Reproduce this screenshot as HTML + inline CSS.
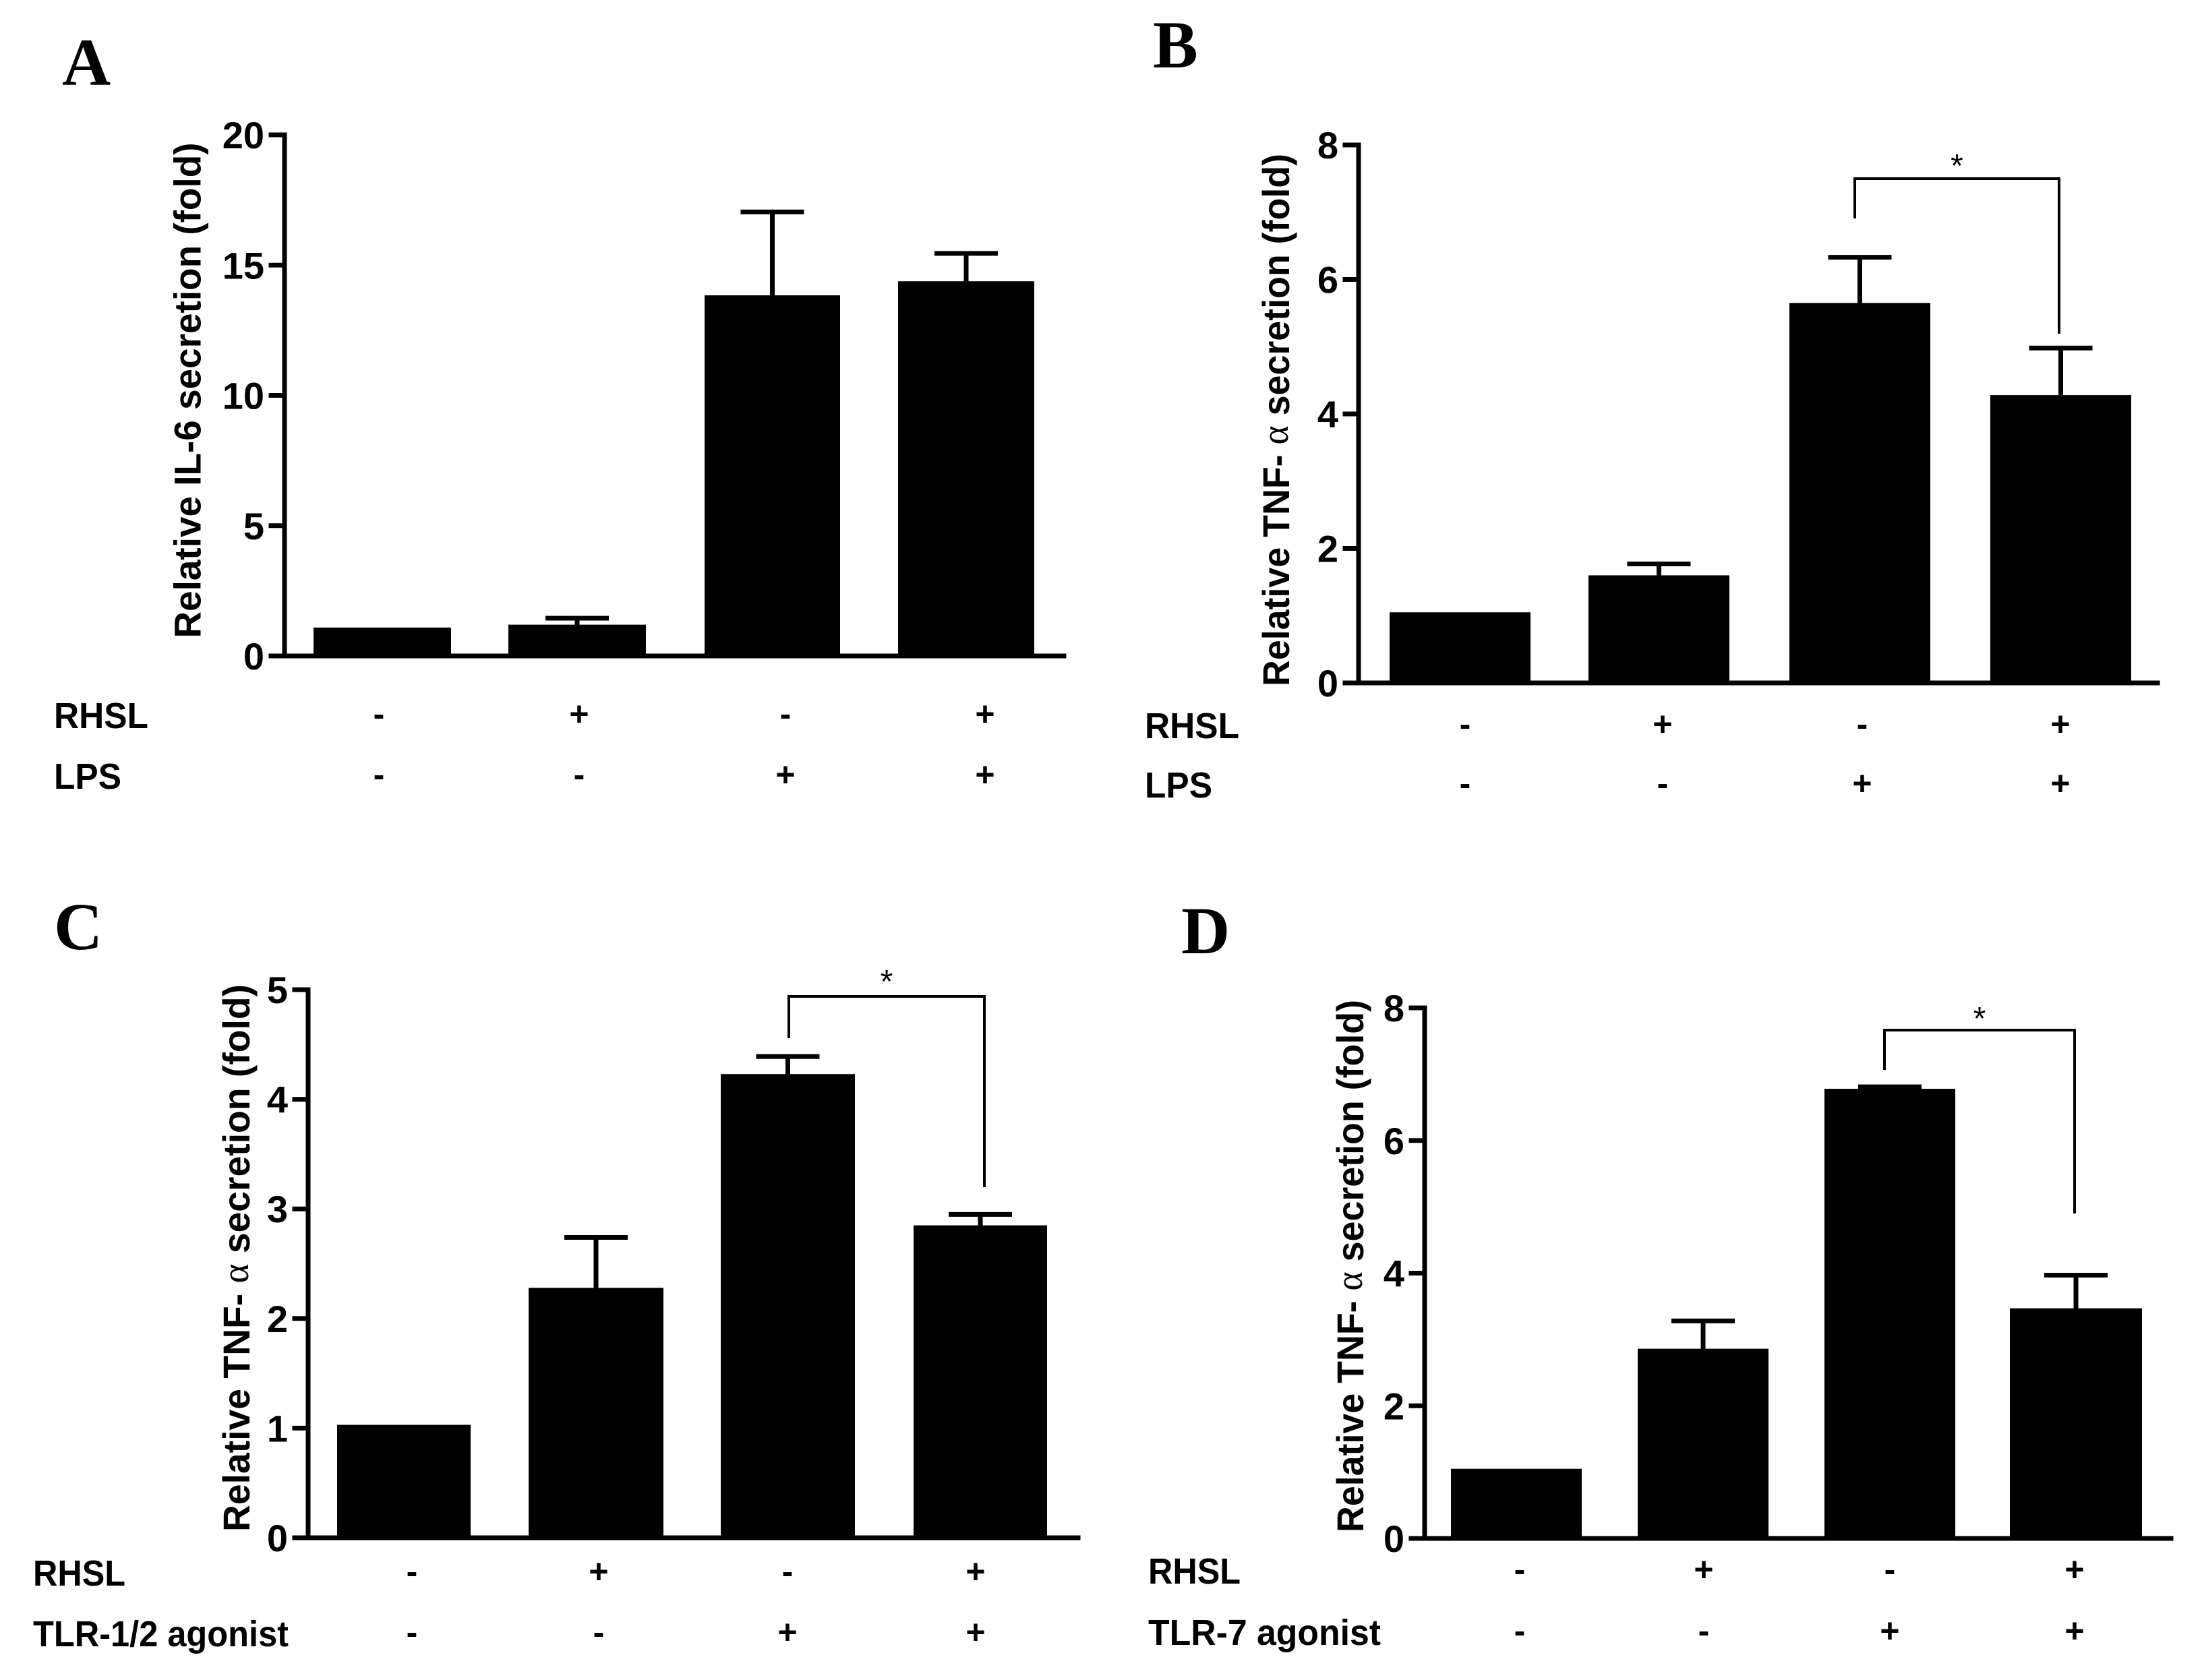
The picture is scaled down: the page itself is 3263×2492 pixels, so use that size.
<!DOCTYPE html>
<html><head><meta charset="utf-8"><style>
html,body{margin:0;padding:0;background:#fff;}
svg{display:block;}
text{font-family:"Liberation Sans",sans-serif;font-weight:bold;fill:#000;}
</style></head><body>
<svg id="fig" width="3263" height="2492" viewBox="0 0 3263 2492" xmlns="http://www.w3.org/2000/svg"></svg>
<script>
// Panel A data
const aValues = [1.09, 1.2, 13.84, 14.38];
const aErrors = [0, 0.25, 3.2, 1.07];
const aTicks = [0, 5, 10, 15, 20];
// Panel B data
const bValues = [1.05, 1.6, 5.65, 4.28];
const bErrors = [0, 0.17, 0.68, 0.7];
const bTicks = [0, 2, 4, 6, 8];
// Panel C data
const cValues = [1.03, 2.28, 4.23, 2.85];
const cErrors = [0, 0.46, 0.16, 0.1];
const cTicks = [0, 1, 2, 3, 4, 5];
// Panel D data
const dValues = [1.05, 2.86, 6.78, 3.47];
const dErrors = [0, 0.42, 0.03, 0.5];
const dTicks = [0, 2, 4, 6, 8];
// Treatment rows
const rhslSigns = ["-", "+", "-", "+"];
const stimSigns = ["-", "-", "+", "+"];

const NS = "http://www.w3.org/2000/svg";
const svg = document.getElementById('fig');
function mk(tag, attrs, parent, txt) {
  const e = document.createElementNS(NS, tag);
  for (const k in attrs) e.setAttribute(k, attrs[k]);
  if (txt !== undefined) e.textContent = txt;
  (parent || svg).appendChild(e);
  return e;
}

const panels = [
  {id:'a', letter:'A', lx:92, ly:126, axX:422, y0:973, yTop:200, xEnd:1578, max:20,
   bars:[[465,669],[754,958],[1045,1246],[1332,1534]], vals:aValues, errs:aErrors, ticks:aTicks,
   title:'Relative IL-6 secretion (fold)', alpha:false, tx:278, tyc:579, tlen:735,
   rowX:80, r1y:1080, r2y:1170, r1:'RHSL', r2:'LPS', r1len:140, r2len:100, signX:[562,859,1165,1461], bracket:null},
  {id:'b', letter:'B', lx:1710, ly:100, axX:2015, y0:1013, yTop:215, xEnd:3200, max:8,
   bars:[[2061,2270],[2356,2565],[2654,2863],[2952,3161]], vals:bValues, errs:bErrors, ticks:bTicks,
   title:'Relative TNF- ', alpha:true, tx:1892, tyc:623, tlen:790,
   rowX:1698, r1y:1095, r2y:1183, r1:'RHSL', r2:'LPS', r1len:140, r2len:100, signX:[2173,2466,2762,3056],
   bracket:{l:2751, r:3054, top:265, lb:324, rb:495, sy:262}},
  {id:'c', letter:'C', lx:80, ly:1408, axX:457, y0:2281, yTop:1468, xEnd:1599, max:5,
   bars:[[500,698],[784,984],[1069,1268],[1355,1553]], vals:cValues, errs:cErrors, ticks:cTicks,
   title:'Relative TNF- ', alpha:true, tx:350, tyc:1866, tlen:812,
   rowX:49, r1y:2352, r2y:2442, r1:'RHSL', r2:'TLR-1/2 agonist', r1len:137, r2len:379, signX:[611,888,1168,1447],
   bracket:{l:1170, r:1460, top:1478, lb:1540, rb:1761, sy:1472}},
  {id:'d', letter:'D', lx:1752, ly:1414, axX:2113, y0:2282, yTop:1495, xEnd:3220, max:8,
   bars:[[2152,2346],[2429,2623],[2706,2900],[2981,3177]], vals:dValues, errs:dErrors, ticks:dTicks,
   title:'Relative TNF- ', alpha:true, tx:2002, tyc:1878, tlen:790,
   rowX:1703, r1y:2349, r2y:2440, r1:'RHSL', r2:'TLR-7 agonist', r1len:137, r2len:345, signX:[2254,2527,2803,3077],
   bracket:{l:2795, r:3077, top:1528, lb:1587, rb:1800, sy:1527}}
];

panels.forEach(p => {
  const g = mk('g', {});
  
  
  const yScale = v => p.y0 - (v / p.max) * (p.y0 - p.yTop);

  const L = mk('text', {x:p.lx, y:p.ly, 'font-size':100, style:'font-family:"Liberation Serif",serif;font-weight:bold'}, g, p.letter);
  
  

  p.vals.forEach((v, i) => {
    const [x1, x2] = p.bars[i];
    const r = mk('rect', {x:x1, y:yScale(v), width:x2 - x1, height:p.y0 - yScale(v), fill:'#000'}, g);
    
    
    if (p.errs[i] > 0) {
      const cx = (x1 + x2) / 2;
      const et = yScale(v + p.errs[i]);
      const eg = mk('g', {stroke:'#000', 'stroke-width':7}, g);
      
      
      mk('line', {x1:cx, y1:yScale(v) + 2, x2:cx, y2:et}, eg);
      mk('line', {x1:cx - 47, y1:et, x2:cx + 47, y2:et}, eg);
    }
  });

  const ax = mk('g', {stroke:'#000', 'stroke-width':7, 'stroke-linecap':'square'}, g);
  
  
  mk('line', {x1:p.axX, y1:p.yTop, x2:p.axX, y2:p.y0}, ax);
  mk('line', {x1:p.axX, y1:p.y0, x2:p.xEnd, y2:p.y0}, ax);
  p.ticks.forEach(t => {
    const y = yScale(t);
    mk('line', {x1:p.axX - 20, y1:y, x2:p.axX, y2:y}, ax);
    const tl = mk('text', {x:p.axX - 30, y:y + 20, 'font-size':56, 'text-anchor':'end'}, g, String(t));
    
    
  });

  const tt = mk('text', {x:0, y:0, 'font-size':56, 'text-anchor':'middle', 'dominant-baseline':'central',
    transform:'translate(' + p.tx + ',' + p.tyc + ') rotate(-90)', textLength:p.tlen, lengthAdjust:'spacingAndGlyphs'}, g);
  
  
  if (p.alpha) {
    mk('tspan', {}, tt, 'Relative TNF- ');
    mk('tspan', {style:'font-family:"Liberation Serif",serif;font-weight:normal'}, tt, 'α');
    mk('tspan', {}, tt, ' secretion (fold)');
  } else {
    tt.textContent = p.title;
  }

  if (p.bracket) {
    const b = p.bracket;
    const bp = mk('polyline', {points:b.l + ',' + b.lb + ' ' + b.l + ',' + b.top + ' ' + b.r + ',' + b.top + ' ' + b.r + ',' + b.rb,
      fill:'none', stroke:'#000', 'stroke-width':4}, g);
    
    
    const st = mk('text', {x:(b.l + b.r) / 2, y:b.sy, 'font-size':48, 'text-anchor':'middle', style:'font-weight:normal'}, g, '*');
    
    
  }

  const r1 = mk('text', {x:p.rowX, y:p.r1y, 'font-size':54, textLength:p.r1len, lengthAdjust:'spacingAndGlyphs'}, g, p.r1);
  
  
  const r2 = mk('text', {x:p.rowX, y:p.r2y, 'font-size':54, textLength:p.r2len, lengthAdjust:'spacingAndGlyphs'}, g, p.r2);
  
  
  p.signX.forEach((x, i) => {
    const s1 = mk('text', {x:x, y:p.r1y - 4, 'font-size':50, 'text-anchor':'middle'}, g, rhslSigns[i]);
    
    
    const s2 = mk('text', {x:x, y:p.r2y - 4, 'font-size':50, 'text-anchor':'middle'}, g, stimSigns[i]);
    
    
  });
});
</script>
</body></html>
